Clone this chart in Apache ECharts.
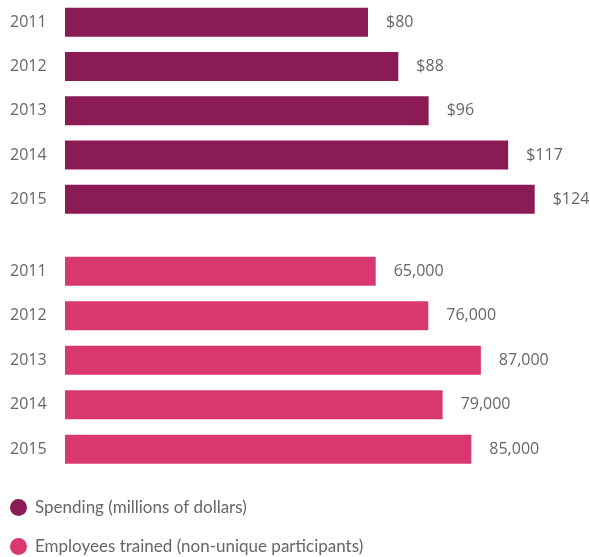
<!DOCTYPE html>
<html>
<head>
<meta charset="utf-8">
<script src="https://cdn.jsdelivr.net/npm/echarts@6/dist/echarts.min.js"></script>
<style>html,body{margin:0;padding:0;background:#fff}#c{width:590px;height:557px}</style>
</head>
<body>
<div id="c"></div>
<script>
var years = ['2011', '2012', '2013', '2014', '2015'];
var spending = [80, 88, 96, 117, 124];
var employees = [65000, 76000, 87000, 79000, 85000];
var seriesNames = ['Spending (millions of dollars)', 'Employees trained (non-unique participants)'];
var colors = ['#8A1B55', '#D8386F'];

var chart = echarts.init(document.getElementById('c'));
var labelFont = { fontFamily: 'Open Sans', fontSize: 16, color: '#666' };
function yAx(idx) {
  return {
    type: 'category', gridIndex: idx, data: years, inverse: true,
    axisLine: { show: false }, axisTick: { show: false },
    axisLabel: Object.assign({ align: 'left', margin: 55 }, labelFont)
  };
}
function leg(i, top) {
  return {
    orient: 'vertical', left: 10, top: top, padding: 0,
    icon: 'circle', itemWidth: 17, itemHeight: 17,
    textStyle: { fontFamily: 'Lato', fontSize: 17, color: '#666', padding: [0, 0, 0, 3] },
    data: [seriesNames[i]]
  };
}
chart.setOption({
  animation: false,
  color: colors,
  grid: [
    { left: 65, width: 500, top: -1, height: 222.5 },
    { left: 65, width: 500, top: 249, height: 222.5 }
  ],
  xAxis: [
    { type: 'value', gridIndex: 0, min: 0, max: 132, show: false },
    { type: 'value', gridIndex: 1, min: 0, max: 104600, show: false }
  ],
  yAxis: [yAx(0), yAx(1)],
  legend: [leg(0, 499), leg(1, 538)],
  series: [
    {
      name: seriesNames[0], type: 'bar', xAxisIndex: 0, yAxisIndex: 0,
      data: spending, barWidth: 29,
      label: Object.assign({ show: true, position: 'right', distance: 18,
        formatter: function (p) { return '$' + p.value; } }, labelFont)
    },
    {
      name: seriesNames[1], type: 'bar', xAxisIndex: 1, yAxisIndex: 1,
      data: employees, barWidth: 29,
      label: Object.assign({ show: true, position: 'right', distance: 18,
        formatter: function (p) { return p.value.toLocaleString('en-US'); } }, labelFont)
    }
  ]
});
</script>
</body>
</html>
